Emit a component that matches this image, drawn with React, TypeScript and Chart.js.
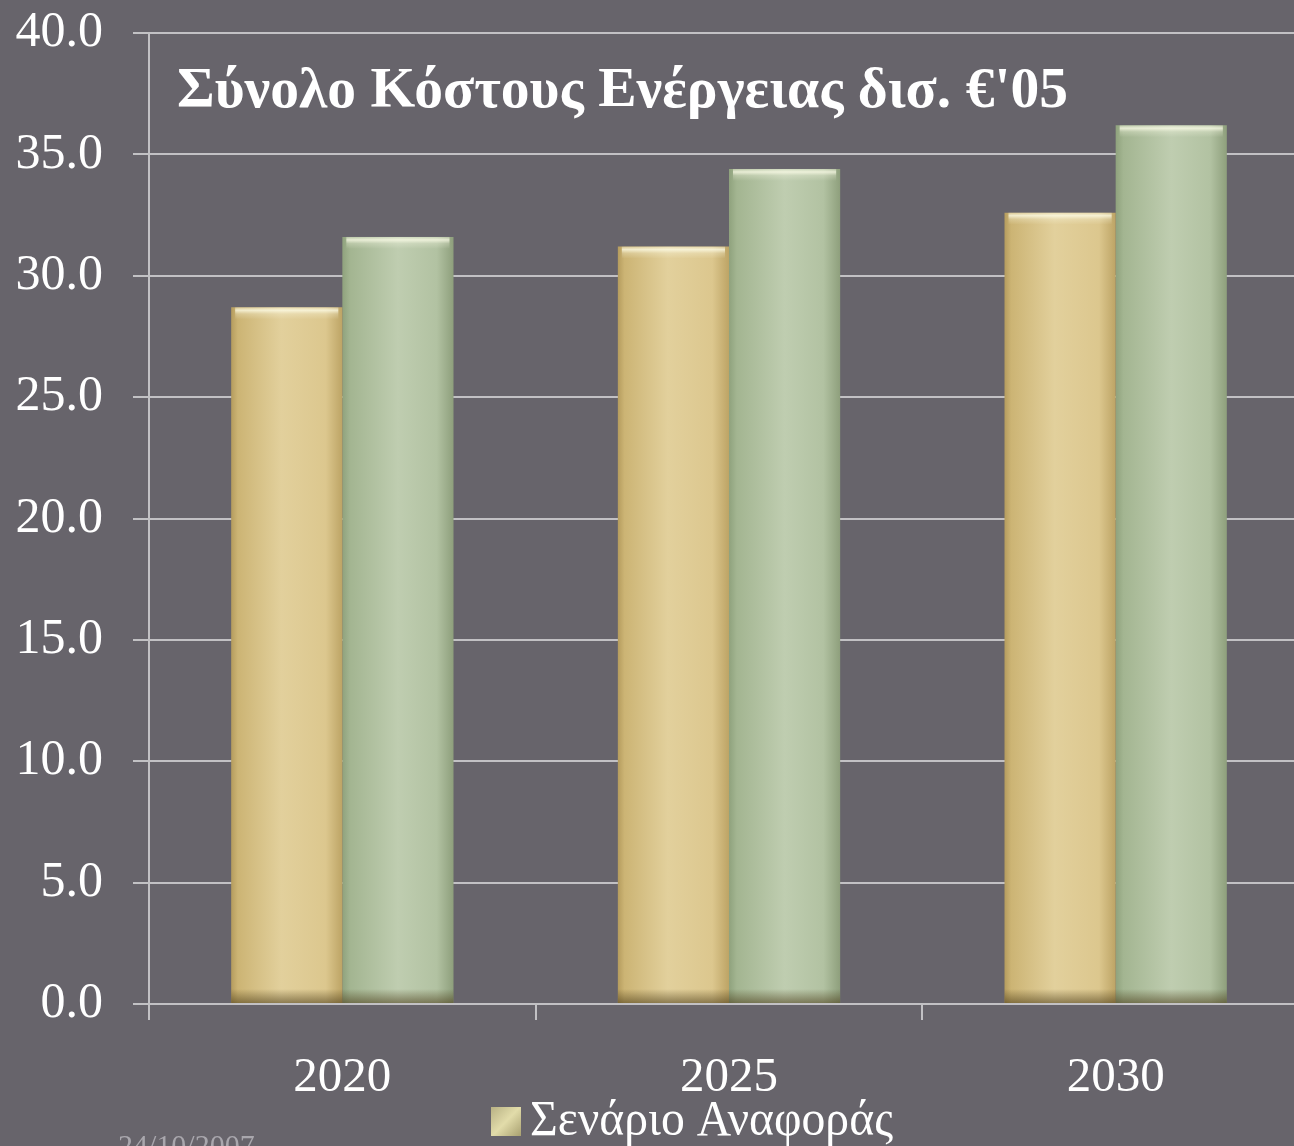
import { useEffect, useRef } from "react";
import { Chart, registerables } from "chart.js";

Chart.register(...registerables);

// ---- data ----
const categories = ["2020", "2025", "2030"];
const referenceScenario = [28.7, 31.2, 32.6];
const alternativeScenario = [31.6, 34.4, 36.2];
const seriesLabels = ["Σενάριο Αναφοράς", "Εναλλακτικό Σενάριο"];
const yMin = 0;
const yMax = 40;
const yStep = 5;
const titleText = "Σύνολο Κόστους Ενέργειας δισ. €'05";
const dateText = "24/10/2007";

// ---- styles ----
const BG = "#67646b";
const GRID = "#c2c1c4";
const SERIF = "'Liberation Serif', 'Times New Roman', serif";
const goldStops: [number, string][] = [
  [0, "#b59c5e"],
  [0.06, "#ccb474"],
  [0.45, "#e2d09c"],
  [0.85, "#dcc78e"],
  [1, "#bda465"],
];
const greenStops: [number, string][] = [
  [0, "#8fa27d"],
  [0.07, "#a3b591"],
  [0.5, "#bfcdb0"],
  [0.85, "#b2c2a2"],
  [1, "#8e9f7c"],
];

function drawFitted(
  ctx: CanvasRenderingContext2D,
  text: string,
  x: number,
  y: number,
  width: number,
  font: string,
  color: string
) {
  ctx.save();
  ctx.font = font;
  ctx.fillStyle = color;
  ctx.textBaseline = "alphabetic";
  ctx.textAlign = "left";
  const w = ctx.measureText(text).width;
  const s = width / w;
  ctx.translate(x, y);
  ctx.scale(s, 1);
  ctx.fillText(text, 0, 0);
  ctx.restore();
}

const decorPlugin = {
  id: "decor",
  beforeDraw(chart: any) {
    const ctx = chart.ctx;
    ctx.save();
    ctx.fillStyle = BG;
    ctx.fillRect(0, 0, chart.width, chart.height);
    ctx.restore();
  },
  beforeDatasetsDraw(chart: any) {
    const ctx = chart.ctx;
    chart.data.datasets.forEach((_ds: any, di: number) => {
      const meta = chart.getDatasetMeta(di);
      const stops = di === 0 ? goldStops : greenStops;
      meta.data.forEach((el: any) => {
        const { x, width } = el.getProps(["x", "width"], true);
        const g = ctx.createLinearGradient(x - width / 2, 0, x + width / 2, 0);
        stops.forEach(([o, c]) => g.addColorStop(o, c));
        el.options.backgroundColor = g;
      });
    });
  },
  afterDatasetsDraw(chart: any) {
    const ctx = chart.ctx;
    ctx.save();
    chart.data.datasets.forEach((_ds: any, di: number) => {
      const meta = chart.getDatasetMeta(di);
      meta.data.forEach((el: any) => {
        const { x, y, width, base } = el.getProps(["x", "y", "width", "base"], true);
        const l = x - width / 2;
        // top bevel highlight
        const tg = ctx.createLinearGradient(0, y, 0, y + 12);
        tg.addColorStop(0, "rgba(255,255,235,0.25)");
        tg.addColorStop(0.25, "rgba(255,255,235,0.75)");
        tg.addColorStop(0.55, "rgba(255,255,235,0.25)");
        tg.addColorStop(1, "rgba(255,255,235,0)");
        ctx.fillStyle = tg;
        ctx.fillRect(l + 4, y, width - 8, 12);
        // bottom shading
        const bg = ctx.createLinearGradient(0, base - 14, 0, base);
        bg.addColorStop(0, "rgba(70,55,20,0)");
        bg.addColorStop(1, "rgba(70,55,20,0.55)");
        ctx.fillStyle = bg;
        ctx.fillRect(l, base - 14, width, 14);
      });
    });
    ctx.restore();
  },
  afterDraw(chart: any) {
    const ctx = chart.ctx;
    const area = chart.chartArea;
    // title inside plot area
    drawFitted(
      ctx,
      titleText,
      area.left + 28,
      area.top + 74,
      891,
      `bold 58px ${SERIF}`,
      "#ffffff"
    );
    // legend (first item only visible)
    const bx = 491;
    const by = 1107;
    const lg = ctx.createLinearGradient(bx, by, bx + 30, by + 29);
    lg.addColorStop(0, "#b8b184");
    lg.addColorStop(0.5, "#e2dcaa");
    lg.addColorStop(1, "#a8a070");
    ctx.save();
    ctx.fillStyle = lg;
    ctx.fillRect(bx, by, 30, 29);
    ctx.restore();
    drawFitted(ctx, seriesLabels[0], 530, 1135, 363, `50px ${SERIF}`, "#ffffff");
    // date footer
    ctx.save();
    ctx.font = `30px ${SERIF}`;
    ctx.fillStyle = "#a9a7ad";
    ctx.textBaseline = "alphabetic";
    ctx.fillText(dateText, 118, 1155);
    ctx.restore();
  },
};

export default function App() {
  const ref = useRef<HTMLCanvasElement | null>(null);

  useEffect(() => {
    document.body.style.margin = "0";
    document.body.style.overflow = "hidden";
    document.body.style.background = BG;
    const canvas = ref.current!;
    const chart = new Chart(canvas, {
      type: "bar",
      data: {
        labels: categories,
        datasets: [
          {
            label: seriesLabels[0],
            data: referenceScenario,
            backgroundColor: () => "#dcc78e",
            borderWidth: 0,
          },
          {
            label: seriesLabels[1],
            data: alternativeScenario,
            backgroundColor: () => "#b4c4a4",
            borderWidth: 0,
          },
        ],
      },
      options: {
        responsive: false,
        animation: false,
        devicePixelRatio: 1,
        layout: { padding: { left: 0, right: 1, top: 33, bottom: 32 } },
        datasets: {
          bar: { barPercentage: 1, categoryPercentage: 0.575 },
        },
        plugins: {
          legend: { display: false },
          title: { display: false },
          tooltip: { enabled: false },
        },
        scales: {
          x: {
            grid: {
              display: true,
              drawOnChartArea: false,
              drawTicks: true,
              tickLength: 16,
              color: GRID,
              lineWidth: 2,
              offset: true,
            },
            border: { display: false },
            ticks: {
              color: "#ffffff",
              font: { family: SERIF, size: 49 },
              padding: 29,
            },
            afterFit: (scale: any) => {
              scale.height = 110;
              scale.paddingLeft = 0;
              scale.paddingRight = 0;
            },
          },
          y: {
            min: yMin,
            max: yMax,
            grid: {
              color: GRID,
              lineWidth: 2,
              tickLength: 16,
            },
            border: { display: true, color: GRID, width: 2 },
            ticks: {
              stepSize: yStep,
              color: "#ffffff",
              font: { family: SERIF, size: 50 },
              padding: 30,
              callback: (v: any) => Number(v).toFixed(1),
            },
            afterFit: (scale: any) => {
              scale.width = 149;
              scale.paddingTop = 0;
              scale.paddingBottom = 0;
            },
          },
        },
      },
      plugins: [decorPlugin],
    });
    return () => chart.destroy();
  }, []);

  return (
    <div style={{ position: "fixed", left: 0, top: 0, width: 1310, height: 1146, overflow: "hidden" }}>
      <canvas ref={ref} width={1310} height={1146} style={{ width: 1310, height: 1146, display: "block" }} />
    </div>
  );
}
